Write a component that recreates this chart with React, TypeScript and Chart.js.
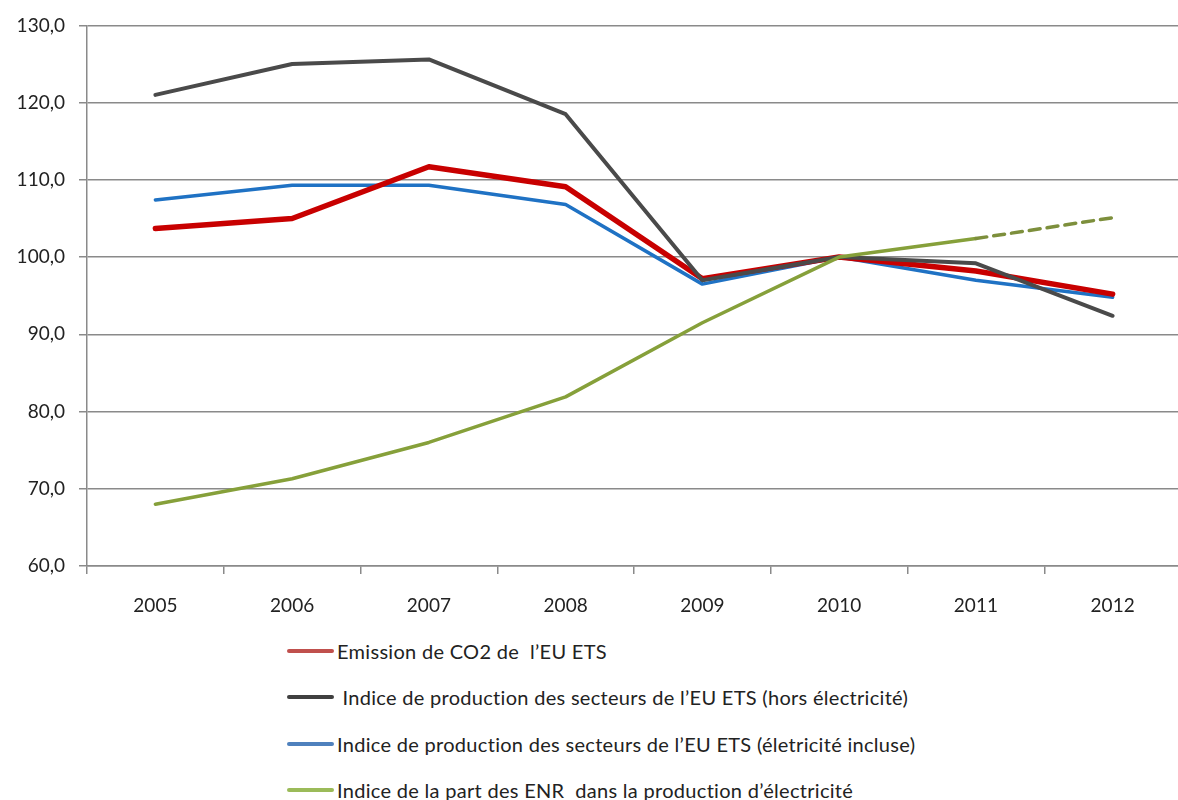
import React, { useEffect, useRef } from "react";
import { Chart, registerables } from "chart.js";

Chart.register(...registerables);

const years = ["2005", "2006", "2007", "2008", "2009", "2010", "2011", "2012"];
const co2 = [103.7, 105.0, 111.7, 109.1, 97.2, 100.0, 98.2, 95.2];
const prodHorsElec = [121.0, 125.0, 125.6, 118.5, 97.0, 100.0, 99.2, 92.4];
const prodElecIncl = [107.4, 109.3, 109.3, 106.8, 96.5, 100.0, 97.0, 94.8];
const enr = [68.0, 71.3, 76.0, 81.9, 91.5, 100.0, 102.4, 105.1];

const yMin = 60;
const yMax = 130;
const yStep = 10;

const legendLabels = [
  "Emission de CO2 de  l\u2019EU ETS",
  " Indice de production des secteurs de l\u2019EU ETS (hors électricité)",
  "Indice de production des secteurs de l\u2019EU ETS (életricité incluse)",
  "Indice de la part des ENR  dans la production d\u2019électricité",
];
const legendColors = ["#c0504d", "#404040", "#4f81bd", "#9bbb59"];

const FONT = "Lato, 'Open Sans', sans-serif";

export default function App() {
  const ref = useRef<HTMLCanvasElement | null>(null);

  useEffect(() => {
    if (!ref.current) return;
    const chart = new Chart(ref.current, {
      type: "line",
      data: {
        labels: years,
        datasets: [
          {
            label: legendLabels[0],
            data: co2,
            borderColor: "#c80000",
            borderWidth: 5.5,
            pointRadius: 0,
            order: 2,
          },
          {
            label: legendLabels[1],
            data: prodHorsElec,
            borderColor: "#4a4a4a",
            borderWidth: 4,
            pointRadius: 0,
            order: 1,
          },
          {
            label: legendLabels[2],
            data: prodElecIncl,
            borderColor: "#1f72c4",
            borderWidth: 3.5,
            pointRadius: 0,
            order: 3,
          },
          {
            label: legendLabels[3],
            data: enr,
            borderColor: "#86a03a",
            borderWidth: 3.5,
            pointRadius: 0,
            order: 0,
            segment: {
              borderDash: (ctx: any) => (ctx.p0DataIndex >= 6 ? [11, 7] : undefined),
              borderColor: (ctx: any) => (ctx.p0DataIndex >= 6 ? "#7d8f3c" : undefined),
            },
          },
        ],
      },
      options: {
        responsive: false,
        animation: false,
        layout: { padding: { left: 0, top: 23, right: 9, bottom: 0 } },
        plugins: {
          legend: { display: false },
          tooltip: { enabled: false },
        },
        elements: { line: { tension: 0, borderJoinStyle: "round", borderCapStyle: "round" } },
        scales: {
          x: {
            offset: true,
            grid: {
              display: true,
              offset: true,
              drawOnChartArea: false,
              drawTicks: true,
              tickLength: 8,
              color: "#8a8a8a",
              lineWidth: 1.5,
            },
            border: { color: "#8a8a8a", width: 1.5 },
            ticks: {
              color: "#222",
              font: { family: FONT, size: 19 },
              padding: 20,
              maxRotation: 0,
            },
            afterFit: (a: any) => {
              a.height = 64;
            },
          },
          y: {
            min: yMin,
            max: yMax,
            ticks: {
              stepSize: yStep,
              color: "#222",
              font: { family: FONT, size: 19 },
              padding: 14,
              callback: (v: any) => Number(v).toFixed(1).replace(".", ","),
            },
            grid: { color: "#8a8a8a", lineWidth: 1.5, tickLength: 8 },
            border: { color: "#8a8a8a", width: 1.5 },
            afterFit: (a: any) => {
              a.width = 87;
            },
          },
        },
      } as any,
    });
    return () => chart.destroy();
  }, []);

  const rowCenters = [651, 697, 744, 790];

  return (
    <div
      style={{
        position: "fixed",
        left: 0,
        top: 0,
        width: 1178,
        height: 800,
        overflow: "hidden",
        background: "#fff",
      }}
    >
      <canvas ref={ref} width={1190} height={630} style={{ display: "block", width: 1190, height: 630 }} />
      {legendLabels.map((lab, i) => (
        <div
          key={i}
          style={{
            position: "absolute",
            left: 287,
            top: rowCenters[i] - 13,
            height: 26,
            display: "flex",
            alignItems: "center",
            fontFamily: FONT,
            fontSize: 20,
            letterSpacing: "0.3px",
            color: "#222",
            whiteSpace: "pre",
          }}
        >
          <div style={{ width: 47, height: 4, background: legendColors[i], borderRadius: 2, marginRight: 3 }} />
          <span>{lab}</span>
        </div>
      ))}
    </div>
  );
}
